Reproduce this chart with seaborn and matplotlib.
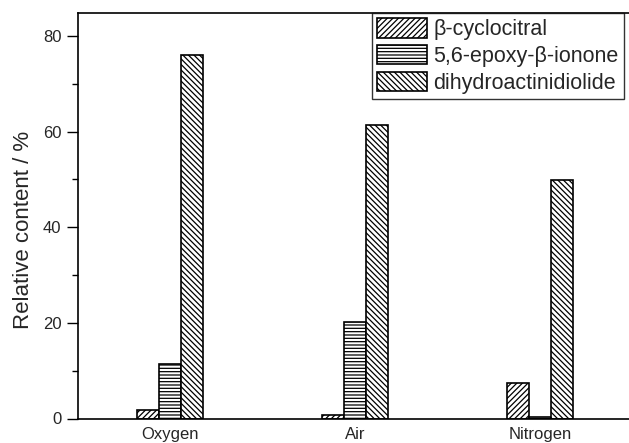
import matplotlib
matplotlib.use("Agg")
import matplotlib.pyplot as plt
import seaborn as sns
import pandas as pd
from matplotlib.patches import Patch

categories = ["Oxygen", "Air", "Nitrogen"]
compounds = ["β-cyclocitral", "5,6-epoxy-β-ionone", "dihydroactinidiolide"]
cyclocitral = [1.8, 0.7, 7.5]
epoxy_ionone = [11.3, 20.2, 0.3]
dihydroactinidiolide = [76.0, 61.4, 49.9]

rows = []
for name, vals in zip(compounds, [cyclocitral, epoxy_ionone, dihydroactinidiolide]):
    for cat, v in zip(categories, vals):
        rows.append({"Atmosphere": cat, "Compound": name, "Value": v})
df = pd.DataFrame(rows)

sns.set_theme(style="ticks")
plt.rcParams['font.family'] = ['Liberation Sans', 'DejaVu Sans']
plt.rcParams['hatch.linewidth'] = 0.9
plt.rcParams['hatch.color'] = 'black'

W, H = 629, 443
fig = plt.figure(figsize=(W / 100, H / 100), dpi=100)
ax = fig.add_axes([78 / W, 1 - 418.5 / H, 1 - 78 / W, (418.5 - 13) / H])

sns.barplot(data=df, x="Atmosphere", y="Value", hue="Compound", order=categories,
            hue_order=compounds, palette=["white"] * 3, edgecolor="black",
            linewidth=1.2, width=0.357, ax=ax, legend=False)

hatches = ["//////", "-----", "\\\\\\\\\\\\"]
for cont, h in zip(ax.containers, hatches):
    for bar in cont:
        bar.set_hatch(h)
        bar.set_facecolor("white")
        bar.set_edgecolor("black")

ax.set_xlim(-0.5, 2.48)
ax.set_ylim(0, 84.8)
ax.set_yticks([0, 20, 40, 60, 80])
ax.set_yticks([10, 30, 50, 70], minor=True)
ax.tick_params(axis='y', which='major', length=8, width=1, labelsize=12, pad=4, color='black', direction='out')
ax.tick_params(axis='y', which='minor', length=4, width=1, direction='out', color='black')
ax.tick_params(axis='x', length=0, labelsize=12, pad=6)
ax.set_xlabel("")
ax.set_ylabel("Relative content / %", fontsize=16)
ax.yaxis.set_label_coords(-0.08, 0.465)
for s in ["left", "top", "bottom"]:
    ax.spines[s].set_color("black")
    ax.spines[s].set_linewidth(1.2)
ax.spines["right"].set_visible(False)

leg_handles = [Patch(facecolor="white", edgecolor="black", hatch=h, linewidth=1.2) for h in hatches]
leg = ax.legend(leg_handles, compounds, loc="upper left",
                bbox_to_anchor=(372 / W, 1 - 13 / H), bbox_transform=fig.transFigure,
                borderaxespad=0, fontsize=15.5, handlelength=2.3, handleheight=1.0,
                labelspacing=0.22, handletextpad=0.3, borderpad=0.25,
                fancybox=False, frameon=True)
leg.get_frame().set_edgecolor("black")
leg.get_frame().set_linewidth(1.0)

fig.savefig("out.png", dpi=100)
